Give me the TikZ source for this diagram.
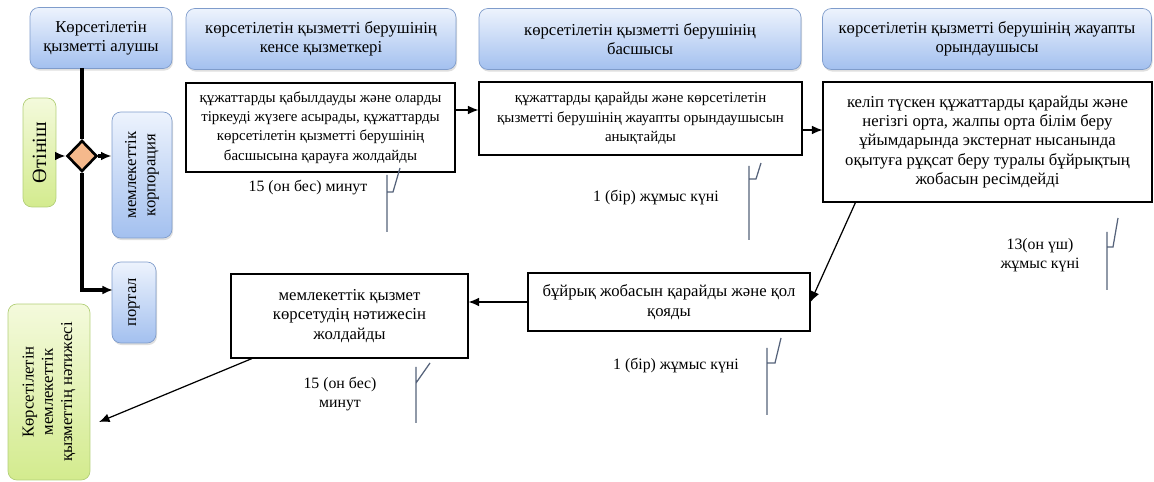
\documentclass[tikz,border=0pt]{standalone}
\usepackage{fontspec}
\setmainfont{Liberation Serif}
\usetikzlibrary{shapes.geometric,calc,shadows,arrows.meta}

\definecolor{headtop}{HTML}{EDF3FD}
\definecolor{headbot}{HTML}{A3C0EF}
\definecolor{headline}{HTML}{7F9CCB}
\definecolor{greentop}{HTML}{F4FADC}
\definecolor{greenbot}{HTML}{D3EB8E}
\definecolor{greenline}{HTML}{B2CF78}
\definecolor{dia}{HTML}{F5B98C}
\definecolor{hookcol}{HTML}{55627A}

\tikzset{
  head/.style={draw=headline, rounded corners=5pt, top color=headtop, bottom color=headbot,
    align=center, drop shadow={opacity=.25, shadow xshift=.6pt, shadow yshift=-1.2pt}},
  work/.style={draw, line width=.7pt, fill=white, align=center},
  small/.style={font=\fontsize{8.5}{11}\selectfont},
  timetext/.style={font=\fontsize{9}{10.5}\selectfont},
  bluebox/.style={head, rotate=90},
  greenbox/.style={draw=greenline, rounded corners=5pt, top color=greentop, bottom color=greenbot,
    align=center, rotate=90},
  flow/.style={line width=1.8pt},
  timemark/.style={draw=hookcol, line width=.7pt}
}

\begin{document}
\begin{tikzpicture}[x=0.02cm, y=-0.02cm, >={Latex[length=6pt,width=5pt]}, font=\fontsize{9.5}{11}\selectfont]
\useasboundingbox (0,0) rectangle (1154,482);

    \node[head, minimum width=2.84cm, minimum height=1.22cm] (h1) at (101, 38) {Көрсетілетін\\ қызметті алушы};
    \node[head, minimum width=5.4cm, minimum height=1.22cm] (h2) at (321, 39) {көрсетілетін қызметті берушінің\\ кенсе қызметкері};
    \node[head, minimum width=6.44cm, minimum height=1.22cm] (h3) at (640, 39) {көрсетілетін қызметті берушінің\\ басшысы};
    \node[head, minimum width=6.58cm, minimum height=1.22cm] (h4) at (987, 39) {көрсетілетін қызметті берушінің жауапты\\ орындаушысы};

    \node[greenbox, minimum width=2.18cm, minimum height=.66cm, font=\fontsize{11.5}{13}\selectfont] (app) at (39.5, 152.5) {Өтініш};
    \node[diamond, draw, line width=1.5pt, fill=dia, minimum width=.6cm, minimum height=.62cm, inner sep=0pt] (d) at (82, 156) {};
    \node[bluebox, minimum width=2.52cm, minimum height=1.2cm] (corp) at (142, 175) {мемлекеттік\\ корпорация};
    \node[bluebox, minimum width=1.62cm, minimum height=.88cm] (portal) at (134, 302.5) {портал};
    \node[greenbox, minimum width=3.52cm, minimum height=1.64cm] (res) at (49, 392) {Көрсетілетін\\ мемлекеттік\\ қызметтің нәтижесі};

    \node[work, small, minimum width=5.38cm, minimum height=1.78cm] (b1) at (320.5, 127.5) {құжаттарды қабылдауды және оларды\\ тіркеуді жүзеге асырады, құжаттарды\\ көрсетілетін қызметті берушінің\\ басшысына қарауға жолдайды};
    \node[work, small, minimum width=6.46cm, minimum height=1.46cm] (b2) at (640.5, 118.5) {құжаттарды қарайды және көрсетілетін\\ қызметті берушінің жауапты орындаушысын\\ анықтайды};
    \node[work, minimum width=6.58cm, minimum height=2.4cm] (b3) at (987.5, 142) {келіп түскен құжаттарды қарайды және\\ негізгі орта, жалпы орта білім беру\\ ұйымдарында экстернат нысанында\\ оқытуға рұқсат беру туралы бұйрықтың\\ жобасын ресімдейді};
    \node[work, minimum width=5.64cm, minimum height=1.16cm] (b4) at (669, 302) {бұйрық жобасын қарайды және қол\\ қояды};
    \node[work, minimum width=4.74cm, minimum height=1.68cm] (b5) at (349.5, 316) {мемлекеттік қызмет\\ көрсетудің нәтижесін\\ жолдайды};

    \node[timetext] (t1) at (308, 188) {15 (он бес) минут};
    \node[timetext] (t2) at (656, 198) {1 (бір) жұмыс күні};
    \node[timetext, align=center] (t3) at (1040, 255) {13(он үш)\\ жұмыс күні};
    \node[timetext] (t4) at (676, 366) {1 (бір) жұмыс күні};
    \node[timetext, align=center] (t5) at (340, 394) {15 (он бес)\\ минут};

    \coordinate (top) at (82, 68);
    \coordinate (toportal) at (113, 290);
    \coordinate (out) at (99, 422);

    % thick flow on the left
    \draw[flow] (top) -- (d.north);
    \draw[flow, ->] (app.south |- d.west) -- (d.west);
    \draw[flow, ->] (d.east) -- (corp.north |- d.east);
    \draw[flow, ->] (d.south) |- (toportal);

    % process arrows
    \draw[->, line width=.7pt] (b1.east |- 0,110) -- (b2.west |- 0,110);
    \draw[->, line width=.7pt] (b2.east |- 0,130) -- (b3.west |- 0,130);
    \draw[->, line width=.7pt] ($(b3.south west)!.1!(b3.south east)$) -- (b4.east);
    \draw[->, line width=.7pt] (b4.west) -- (b5.east |- b4.west);
    \draw[->, line width=.7pt] ($(b5.south west)!.09!(b5.south east)$) -- (out);

    % time marks
    \draw[timemark] (387,175) -- (387,232) (387,192) -- (393,192) -- (400,168);
    \draw[timemark] (749,166) -- (749,240) (749,179) -- (756,179) -- (761,163);
    \draw[timemark] (1107,232) -- (1107,290) (1107,247) -- (1113,247) -- (1118,218);
    \draw[timemark] (416,367) -- (416,423) (416,383) -- (430,363);
    \draw[timemark] (767,348) -- (767,415) (767,363) -- (775,363) -- (781,338);

\end{tikzpicture}
\end{document}
